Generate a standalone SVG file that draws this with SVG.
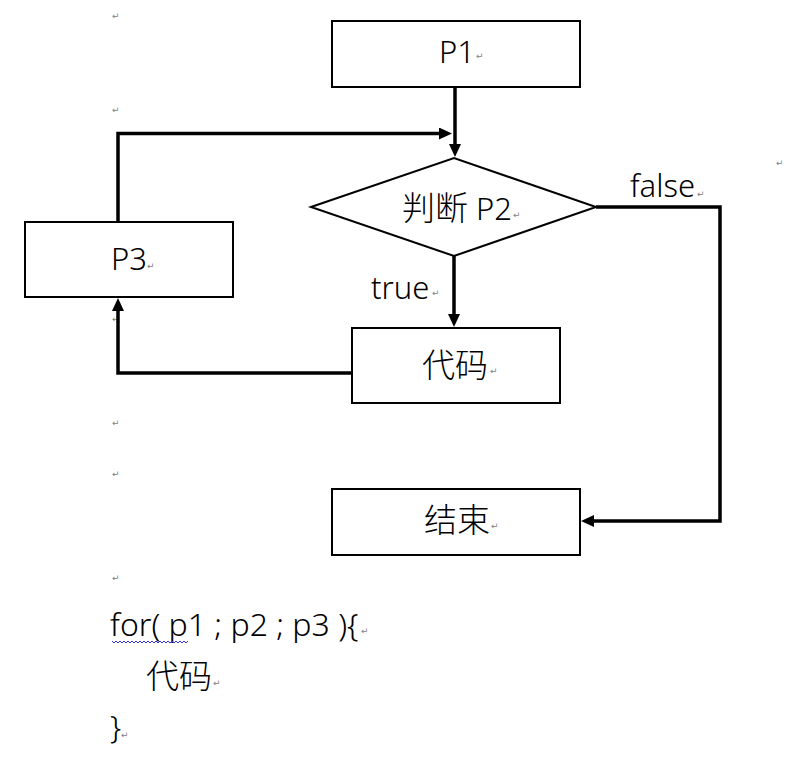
<svg xmlns="http://www.w3.org/2000/svg" width="786" height="761" viewBox="0 0 786 761">
<defs>
<marker id="arr" viewBox="0 0 13 12" refX="7" refY="6" markerWidth="13" markerHeight="12" markerUnits="userSpaceOnUse" orient="auto">
<path d="M0,0 L13,6 L0,12 z" fill="#000"/>
</marker>
</defs>
<style>
.box{fill:#fff;stroke:#000;stroke-width:2}
.lat{font-family:"Noto Sans","Noto Sans CJK SC",sans-serif;font-size:31px;font-weight:300;fill:#000}
.cjk{font-family:"Noto Sans CJK SC","Noto Sans",sans-serif;font-size:33px;font-weight:300}
.pm{font-family:"DejaVu Sans",sans-serif;font-size:9px;fill:#808080}
.con{fill:none;stroke:#000;stroke-width:3.5;marker-end:url(#arr)}
</style>
<rect width="786" height="761" fill="#fff"/>
<g id="marks">
<text class="pm" x="112" y="19">↵</text>
<text class="pm" x="112" y="113">↵</text>
<text class="pm" x="776" y="166">↵</text>
<text class="pm" x="112" y="322">↵</text>
<text class="pm" x="112" y="426">↵</text>
<text class="pm" x="112" y="477">↵</text>
<text class="pm" x="112" y="581">↵</text>
</g>
<g id="connectors">
<path class="con" d="M455,88 V151"/>
<path class="con" d="M118,222 V133.5 H446"/>
<path class="con" d="M454,256 V321"/>
<path class="con" d="M352,373 H118 V304"/>
<path class="con" d="M596,207 H720 V521 H587"/>
</g>
<g id="p1">
<rect class="box" x="332" y="21" width="248" height="66"/>
<text class="lat" x="439" y="63">P1</text>
<text class="pm" x="476" y="59">↵</text>
</g>
<g id="p2">
<polygon class="box" points="311,207 454,158 596,207 454,256"/>
<text class="lat" x="402" y="220"><tspan class="cjk">判断</tspan> P2</text>
<text class="pm" x="513" y="218">↵</text>
</g>
<g id="p3">
<rect class="box" x="25" y="222" width="208" height="75"/>
<text class="lat" x="111" y="270">P3</text>
<text class="pm" x="147" y="269">↵</text>
</g>
<g id="code">
<rect class="box" x="352" y="328" width="208" height="75"/>
<text class="lat cjk" x="422" y="377">代码</text>
<text class="pm" x="490" y="374">↵</text>
</g>
<g id="end">
<rect class="box" x="332" y="489" width="248" height="66"/>
<text class="lat cjk" x="424" y="532">结束</text>
<text class="pm" x="491" y="529">↵</text>
</g>
<g id="labels">
<text class="lat" x="630" y="197">false</text>
<text class="pm" x="697" y="197">↵</text>
<text class="lat" x="371" y="299">true</text>
<text class="pm" x="432" y="296">↵</text>
</g>
<g id="snippet">
<text class="lat" x="110" y="636" style="font-size:32px">for( p1 ; p2 ; p3 ){</text>
<text class="pm" x="361" y="634">↵</text>
<path d="M112,641 l2,2 l2,-2 l2,2 l2,-2 l2,2 l2,-2 l2,2 l2,-2 l2,2 l2,-2 l2,2 l2,-2 l2,2 l2,-2 l2,2 l2,-2 l2,2 l2,-2 l2,2 l2,-2 l2,2 l2,-2 l2,2 l2,-2 l2,2 l2,-2 l2,2 l2,-2 l2,2 l2,-2 l2,2 l2,-2 l2,2 l2,-2 l2,2 l2,-2 l2,2 l2,-2" fill="none" stroke="#3333ee" stroke-width="1"/>
<text class="lat cjk" x="146" y="688">代码</text>
<text class="pm" x="213" y="686">↵</text>
<text class="lat" x="110" y="738">}</text>
<text class="pm" x="121" y="738">↵</text>
</g>
</svg>
